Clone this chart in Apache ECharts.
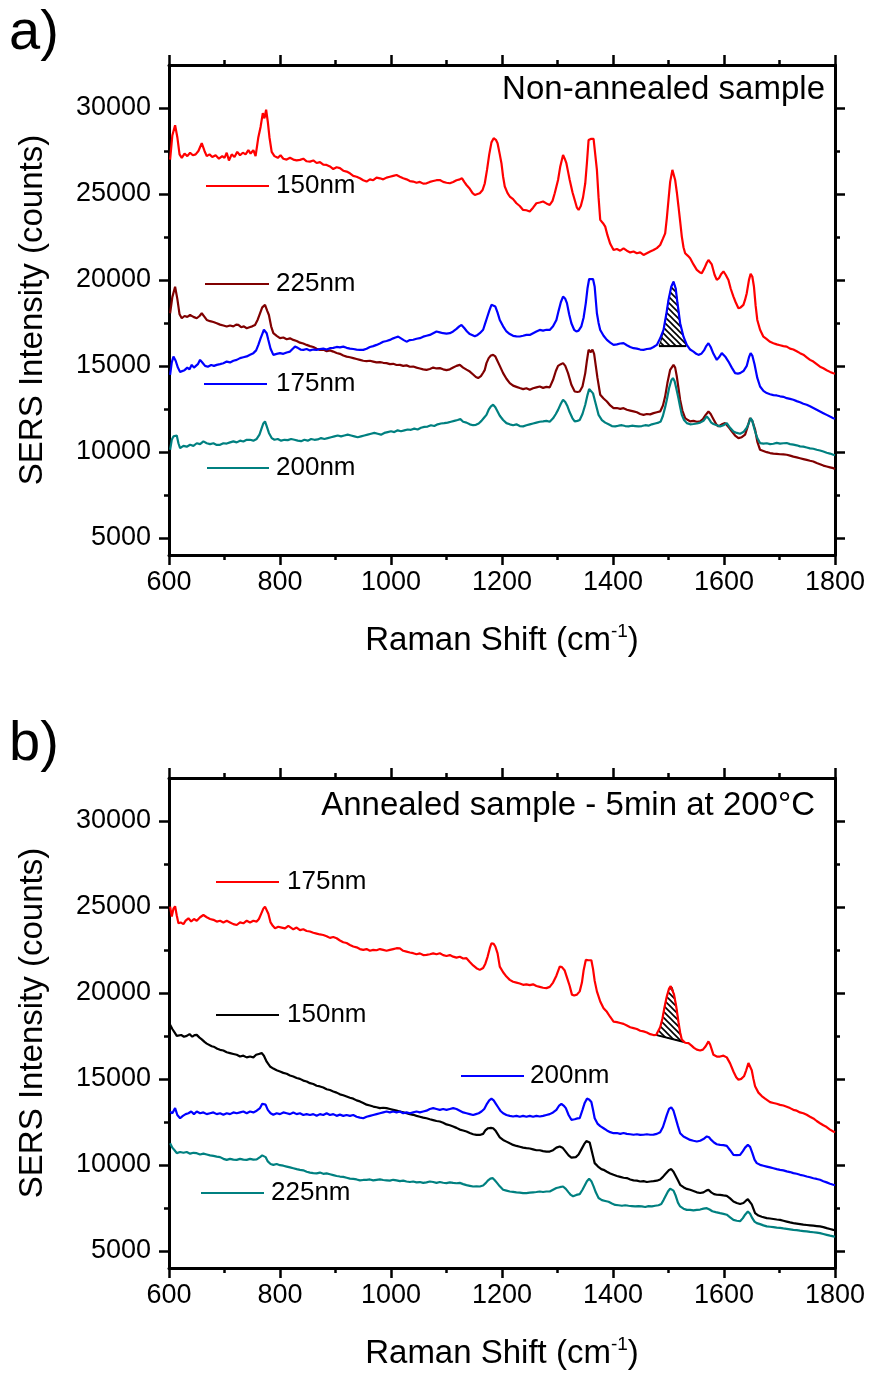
<!DOCTYPE html>
<html><head><meta charset="utf-8">
<script src="https://cdn.jsdelivr.net/npm/echarts@6/dist/echarts.min.js"></script>
<style>html,body{margin:0;padding:0;background:#fff}#c{width:869px;height:1374px}</style>
</head><body><div id="c"></div>
<script>
// ---------- tick values ----------
const xTickLabels = [600, 800, 1000, 1200, 1400, 1600, 1800];
const yMajor = [5000, 10000, 15000, 20000, 25000, 30000];
const yMinor = [7500, 12500, 17500, 22500, 27500];
const legendNames = ['150nm', '175nm', '200nm', '225nm'];

// ---------- panel a (non-annealed) : [Raman shift, counts] ----------
const a150 = [[602,27000],[606,28400],[611,29000],[615,28300],[619,27300],[623,27100],[628,27350],[633,27200],[638,27400],[643,27250],[648,27300],[653,27500],[659,27950],[664,27500],[668,27200],[673,27300],[678,27150],[684,27250],[690,27050],[696,27200],[700,27100],[704,27400],[708,26950],[713,27300],[718,27150],[723,27450],[728,27250],[733,27400],[738,27300],[743,27550],[747,27350],[752,27550],[756,27200],[761,28300],[765,28900],[769,29700],[772,29400],[775,29900],[778,29200],[781,28300],[785,27450],[790,27200],[796,27100],[801,27250],[806,27050],[812,27000],[818,27100],[824,27000],[830,26950],[836,26980],[842,27050],[848,26900],[854,26880],[860,26950],[866,26800],[872,26850],[878,26700],[884,26690],[890,26600],[896,26450],[902,26550],[908,26500],[914,26350],[920,26300],[926,26200],[932,26050],[938,26000],[944,25910],[950,25800],[956,25720],[962,25850],[968,25800],[974,25950],[980,25910],[986,25850],[992,25950],[998,26000],[1004,26050],[1010,26100],[1016,26000],[1022,25910],[1028,25850],[1034,25750],[1040,25720],[1046,25650],[1052,25700],[1058,25600],[1064,25620],[1070,25700],[1076,25750],[1082,25800],[1088,25810],[1094,25700],[1100,25650],[1106,25620],[1112,25700],[1118,25800],[1124,25850],[1128,25910],[1132,25700],[1136,25520],[1142,25300],[1147,25050],[1151,24940],[1156,25000],[1160,25040],[1165,25230],[1169,25620],[1173,26400],[1177,27300],[1181,28000],[1185,28240],[1189,28150],[1192,27950],[1196,27300],[1199,26790],[1202,26000],[1205,25430],[1210,25050],[1214,24850],[1220,24700],[1226,24460],[1232,24300],[1238,24070],[1244,24050],[1250,23980],[1256,24200],[1262,24460],[1268,24500],[1274,24560],[1280,24450],[1286,24360],[1291,24600],[1295,25040],[1301,25810],[1305,26600],[1310,27270],[1313,27050],[1316,26790],[1319,26300],[1322,25810],[1327,25100],[1331,24650],[1335,24200],[1338,24070],[1342,24300],[1346,24800],[1350,25620],[1353,26800],[1356,28140],[1360,28200],[1365,28200],[1368,28150],[1371,26400],[1374,24800],[1377,23490],[1382,23300],[1386,23100],[1390,22600],[1395,22100],[1401,21740],[1407,21800],[1413,21700],[1419,21840],[1425,21700],[1431,21600],[1437,21650],[1443,21550],[1449,21600],[1455,21450],[1461,21550],[1467,21650],[1473,21740],[1479,21850],[1485,22030],[1490,22400],[1494,22710],[1497,23600],[1500,24650],[1503,25700],[1507,26400],[1510,26300],[1512,25810],[1515,25100],[1518,24270],[1521,23400],[1524,22520],[1527,21900],[1530,21550],[1535,21400],[1539,21260],[1545,20900],[1551,20580],[1556,20450],[1560,20390],[1565,20700],[1569,21000],[1572,21160],[1575,21100],[1578,20900],[1583,20300],[1587,20000],[1591,20100],[1595,20350],[1599,20490],[1603,20300],[1608,20000],[1612,19500],[1617,19030],[1621,18700],[1626,18350],[1630,18400],[1635,18550],[1638,18850],[1641,19230],[1645,20000],[1648,20350],[1651,20200],[1654,19600],[1657,18500],[1660,17670],[1665,17100],[1671,16700],[1677,16550],[1683,16400],[1689,16320],[1695,16250],[1701,16200],[1707,16150],[1713,16120],[1719,16000],[1725,15950],[1731,15850],[1737,15740],[1743,15650],[1749,15500],[1755,15350],[1761,15250],[1767,15100],[1773,14950],[1779,14860],[1785,14750],[1791,14650],[1797,14570],[1800,14550]];

const a225 = [[602,18060],[606,19000],[611,19600],[615,18900],[619,18000],[623,17770],[628,17900],[633,17850],[638,17960],[644,17850],[650,17770],[655,17900],[659,18060],[664,17850],[668,17670],[674,17600],[680,17550],[686,17480],[692,17400],[698,17350],[704,17290],[710,17350],[716,17300],[721,17400],[725,17380],[730,17250],[735,17300],[740,17190],[745,17250],[750,17300],[755,17380],[760,17700],[764,18060],[768,18400],[773,18550],[777,18200],[780,17960],[784,17300],[788,16900],[794,16750],[800,16610],[806,16650],[812,16550],[818,16600],[824,16510],[830,16450],[836,16350],[842,16300],[848,16220],[854,16150],[860,16100],[866,16000],[872,15930],[878,15950],[884,15850],[890,15900],[896,15830],[902,15750],[908,15700],[914,15600],[920,15540],[926,15500],[932,15450],[938,15400],[944,15350],[950,15300],[956,15280],[962,15300],[968,15250],[974,15200],[980,15220],[986,15180],[992,15160],[998,15100],[1004,15120],[1010,15050],[1016,15060],[1022,15000],[1028,15030],[1034,14950],[1040,14960],[1046,14900],[1052,14850],[1058,14800],[1064,14770],[1070,14820],[1076,14900],[1082,14850],[1088,14870],[1094,14800],[1100,14750],[1106,14800],[1112,14900],[1118,15000],[1124,15060],[1130,14900],[1136,14780],[1142,14670],[1148,14500],[1153,14350],[1157,14290],[1162,14400],[1166,14600],[1169,14770],[1172,15160],[1176,15450],[1180,15600],[1184,15640],[1188,15550],[1191,15450],[1196,15000],[1202,14580],[1208,14250],[1214,14000],[1220,13850],[1226,13780],[1232,13710],[1238,13650],[1244,13700],[1250,13610],[1256,13700],[1262,13750],[1268,13800],[1274,13720],[1280,13780],[1286,13750],[1292,14190],[1297,14700],[1301,15000],[1306,15100],[1310,15160],[1314,15000],[1319,14580],[1325,13900],[1331,13510],[1336,13480],[1340,13510],[1345,13800],[1350,14580],[1353,15300],[1356,15930],[1360,15800],[1363,15950],[1366,15700],[1369,15000],[1372,14300],[1377,13320],[1383,13100],[1389,12930],[1395,12700],[1401,12540],[1407,12550],[1413,12500],[1419,12540],[1425,12450],[1431,12400],[1437,12350],[1443,12300],[1449,12200],[1455,12150],[1461,12200],[1467,12180],[1473,12250],[1479,12300],[1485,12350],[1490,12700],[1494,13230],[1498,14000],[1503,14770],[1509,15060],[1512,14900],[1515,14380],[1518,13700],[1521,13020],[1525,12400],[1530,11960],[1535,11850],[1539,11770],[1545,11800],[1551,11750],[1557,11770],[1562,11900],[1567,12150],[1572,12350],[1576,12200],[1581,11900],[1586,11600],[1590,11480],[1596,11600],[1602,11670],[1608,11450],[1614,11190],[1620,10950],[1626,10800],[1632,10850],[1638,11000],[1643,11500],[1647,11960],[1651,11800],[1656,11300],[1660,10600],[1665,10120],[1671,10050],[1677,9980],[1683,9930],[1689,9900],[1695,9880],[1701,9860],[1707,9850],[1713,9830],[1719,9780],[1725,9720],[1731,9680],[1737,9630],[1743,9580],[1749,9530],[1755,9480],[1761,9440],[1767,9350],[1773,9280],[1779,9200],[1785,9150],[1791,9100],[1797,9050],[1800,9000]];

const a175 = [[602,14480],[605,15200],[608,15540],[612,15300],[616,14900],[620,14650],[623,14580],[628,14750],[633,14900],[637,14800],[641,15060],[645,14900],[648,14800],[652,15100],[656,15350],[660,15200],[665,15000],[670,14950],[676,15050],[681,15000],[686,15060],[692,15100],[698,15150],[704,15250],[710,15200],[716,15300],[722,15350],[728,15450],[734,15500],[740,15550],[746,15650],[752,15740],[757,15900],[761,16220],[765,16600],[768,16850],[771,17100],[773,17190],[776,16900],[779,16500],[783,16000],[788,15640],[794,15700],[800,15740],[806,15700],[812,15780],[818,15830],[823,16000],[827,16120],[832,16050],[837,15950],[842,15930],[848,15980],[854,15900],[860,15950],[866,15930],[872,15980],[878,16000],[884,15950],[890,16030],[896,16050],[902,16100],[908,16080],[914,16120],[920,16050],[926,16000],[932,15980],[938,15950],[944,15930],[950,15930],[956,16000],[962,16100],[968,16150],[974,16220],[980,16300],[986,16400],[992,16450],[998,16510],[1004,16600],[1008,16650],[1013,16700],[1018,16600],[1023,16500],[1028,16410],[1034,16500],[1040,16520],[1046,16580],[1052,16610],[1058,16700],[1064,16750],[1070,16800],[1076,16900],[1082,17000],[1088,16950],[1094,16900],[1100,16880],[1106,16900],[1112,17000],[1118,17150],[1123,17300],[1127,17380],[1132,17200],[1137,17000],[1142,16850],[1147,16780],[1151,16720],[1156,16800],[1160,16900],[1166,17100],[1170,17500],[1173,17800],[1177,18200],[1181,18550],[1184,18650],[1188,18450],[1192,18100],[1196,17670],[1202,17300],[1208,17000],[1214,16850],[1220,16750],[1226,16720],[1232,16710],[1238,16750],[1244,16800],[1250,16800],[1256,16900],[1262,17000],[1268,17090],[1274,17050],[1280,17100],[1286,17090],[1292,17300],[1298,17670],[1302,18200],[1306,18700],[1310,19030],[1314,18900],[1317,18650],[1321,18000],[1325,17480],[1330,17100],[1334,17000],[1338,17050],[1343,17300],[1347,17800],[1351,18650],[1354,19500],[1357,20050],[1360,20100],[1364,20050],[1367,19600],[1371,18060],[1374,17500],[1377,17090],[1383,16750],[1389,16510],[1395,16350],[1401,16220],[1407,16250],[1413,16300],[1419,16320],[1425,16200],[1431,16100],[1437,16030],[1443,16000],[1449,15950],[1455,15930],[1461,15980],[1467,16000],[1473,16100],[1479,16220],[1485,16600],[1491,17090],[1496,18000],[1500,18840],[1505,19600],[1509,19900],[1513,19500],[1516,18700],[1521,17480],[1527,16700],[1533,16220],[1539,15950],[1545,15830],[1550,15700],[1554,15640],[1559,15700],[1564,15900],[1568,16150],[1572,16320],[1576,16100],[1581,15700],[1587,15350],[1591,15500],[1596,15740],[1602,15550],[1608,15250],[1614,14900],[1620,14580],[1625,14550],[1629,14580],[1635,14700],[1641,15000],[1645,15500],[1648,15740],[1651,15600],[1655,15100],[1660,14300],[1665,13800],[1671,13550],[1677,13420],[1683,13350],[1689,13300],[1695,13280],[1701,13230],[1707,13200],[1713,13120],[1719,13080],[1725,13030],[1731,12950],[1737,12880],[1743,12800],[1749,12740],[1755,12650],[1761,12550],[1767,12450],[1773,12350],[1779,12250],[1785,12150],[1791,12050],[1797,11960],[1800,11920]];

const a200 = [[602,10120],[605,10700],[608,10900],[611,10850],[614,10950],[617,10500],[620,10220],[626,10350],[632,10300],[638,10410],[644,10350],[650,10500],[656,10450],[662,10610],[668,10500],[674,10450],[680,10500],[686,10400],[692,10410],[698,10500],[704,10480],[710,10550],[716,10610],[722,10550],[728,10650],[734,10600],[740,10700],[746,10700],[752,10650],[758,10750],[763,11000],[767,11380],[770,11650],[773,11770],[776,11500],[780,11100],[785,10800],[790,10700],[796,10750],[802,10650],[808,10700],[814,10680],[820,10750],[826,10700],[832,10650],[838,10620],[844,10700],[850,10650],[856,10750],[862,10700],[868,10720],[874,10800],[880,10750],[886,10800],[892,10850],[898,10900],[904,10950],[910,10900],[916,10950],[922,11000],[928,10950],[934,10900],[940,10850],[946,10900],[952,10950],[958,11000],[964,11050],[970,11100],[976,11050],[982,11000],[988,11100],[994,11150],[1000,11200],[1006,11150],[1012,11250],[1018,11200],[1024,11250],[1030,11300],[1036,11280],[1042,11350],[1048,11300],[1054,11400],[1060,11450],[1066,11470],[1072,11550],[1078,11500],[1084,11600],[1090,11650],[1096,11670],[1102,11700],[1108,11750],[1114,11800],[1120,11850],[1125,11900],[1130,11750],[1136,11700],[1142,11600],[1148,11550],[1153,11570],[1158,11650],[1163,11800],[1168,12000],[1172,12150],[1176,12450],[1180,12650],[1184,12740],[1188,12600],[1192,12350],[1196,12100],[1202,11850],[1208,11670],[1214,11600],[1220,11550],[1226,11600],[1232,11500],[1238,11480],[1244,11550],[1250,11600],[1256,11650],[1262,11700],[1268,11750],[1274,11770],[1280,11800],[1286,11750],[1292,11950],[1297,12200],[1301,12440],[1306,12800],[1310,13030],[1314,12900],[1318,12650],[1322,12300],[1327,11950],[1331,11770],[1336,11800],[1340,11850],[1345,12200],[1350,12740],[1354,13300],[1357,13650],[1360,13700],[1364,13400],[1368,12900],[1374,12150],[1380,11850],[1386,11700],[1392,11600],[1398,11500],[1404,11480],[1410,11520],[1416,11550],[1422,11500],[1428,11480],[1434,11520],[1440,11500],[1446,11480],[1452,11500],[1458,11550],[1464,11520],[1470,11600],[1476,11650],[1482,11700],[1486,11770],[1490,12100],[1494,12600],[1497,13030],[1501,13700],[1505,14150],[1508,14290],[1511,14100],[1514,13700],[1518,13100],[1521,12600],[1524,12150],[1528,11850],[1533,11670],[1539,11600],[1545,11620],[1551,11650],[1557,11700],[1563,11800],[1569,12060],[1573,11900],[1577,11700],[1581,11620],[1587,11550],[1593,11480],[1599,11550],[1605,11670],[1611,11400],[1617,11190],[1623,11100],[1629,11050],[1635,11150],[1641,11400],[1645,11700],[1648,11960],[1651,11800],[1655,11300],[1660,10800],[1665,10510],[1671,10480],[1677,10500],[1683,10450],[1689,10470],[1695,10520],[1701,10480],[1707,10500],[1713,10510],[1719,10450],[1725,10420],[1731,10380],[1737,10320],[1743,10300],[1749,10250],[1755,10200],[1761,10180],[1767,10120],[1773,10080],[1779,10020],[1785,9950],[1791,9900],[1797,9830],[1800,9800]];

// ---------- panel b (annealed) ----------
const b175 = [[602,25020],[605,24440],[608,24900],[611,25040],[614,24500],[617,24050],[621,24100],[626,24000],[630,24200],[635,24340],[640,24150],[645,24300],[650,24200],[656,24400],[662,24530],[668,24400],[674,24300],[680,24250],[686,24150],[692,24200],[698,24100],[704,24200],[710,24100],[716,24000],[722,23950],[728,24100],[734,24050],[740,24200],[746,24100],[752,24200],[758,24150],[762,24300],[766,24600],[770,24900],[773,25020],[776,24950],[779,24600],[783,24100],[787,23900],[791,23760],[797,23850],[803,23800],[809,23750],[815,23900],[818,23860],[824,23700],[830,23800],[836,23650],[842,23700],[848,23600],[854,23570],[860,23500],[866,23450],[872,23400],[878,23370],[884,23300],[890,23200],[896,23250],[902,23180],[908,23050],[914,22950],[920,22900],[926,22790],[932,22700],[938,22650],[944,22550],[950,22500],[956,22550],[962,22450],[968,22500],[974,22480],[980,22550],[986,22500],[992,22450],[998,22500],[1004,22550],[1010,22600],[1016,22590],[1022,22450],[1028,22400],[1034,22350],[1040,22310],[1046,22250],[1052,22300],[1058,22200],[1064,22210],[1070,22250],[1076,22300],[1082,22250],[1088,22310],[1094,22200],[1100,22150],[1106,22200],[1112,22110],[1118,22050],[1124,22100],[1130,22000],[1136,22020],[1142,21800],[1148,21600],[1154,21440],[1160,21340],[1166,21450],[1170,21700],[1174,22100],[1178,22600],[1181,22890],[1185,22850],[1188,22700],[1192,22300],[1196,21530],[1202,21200],[1208,20950],[1214,20760],[1220,20650],[1226,20600],[1232,20550],[1238,20470],[1244,20500],[1250,20450],[1256,20500],[1262,20400],[1268,20350],[1274,20300],[1280,20280],[1286,20350],[1292,20600],[1298,21000],[1304,21530],[1308,21500],[1313,21300],[1318,20800],[1322,20400],[1326,19900],[1330,19850],[1335,19900],[1340,20090],[1344,20600],[1347,21300],[1351,21920],[1356,21900],[1361,21900],[1364,21400],[1367,20700],[1371,20090],[1377,19500],[1383,19110],[1389,18900],[1395,18600],[1401,18330],[1407,18300],[1413,18250],[1419,18200],[1425,18100],[1431,18000],[1437,17950],[1443,17900],[1449,17800],[1455,17760],[1461,17700],[1467,17600],[1473,17550],[1478,17560],[1481,17750],[1485,18000],[1489,18500],[1493,19200],[1497,19800],[1501,20250],[1504,20400],[1507,20300],[1510,19900],[1514,19200],[1518,18300],[1521,17700],[1524,17280],[1530,17100],[1536,17080],[1541,16950],[1546,16800],[1551,16700],[1557,16650],[1562,16700],[1567,16900],[1572,17180],[1575,17000],[1578,16700],[1581,16400],[1587,16300],[1593,16300],[1599,16350],[1605,16250],[1611,15900],[1617,15430],[1622,15100],[1626,14950],[1631,15000],[1636,15150],[1640,15500],[1644,15920],[1647,15850],[1650,15500],[1653,15000],[1656,14570],[1662,14200],[1668,14000],[1674,13850],[1677,13780],[1683,13650],[1689,13600],[1695,13550],[1701,13490],[1707,13450],[1713,13380],[1719,13300],[1725,13200],[1731,13150],[1737,13050],[1743,13000],[1749,12910],[1755,12800],[1761,12700],[1767,12550],[1773,12420],[1779,12300],[1785,12200],[1791,12050],[1797,11940],[1800,11900]];

const b150 = [[602,18140],[606,17900],[610,17700],[614,17500],[617,17460],[622,17550],[627,17450],[632,17500],[637,17600],[642,17450],[646,17550],[650,17560],[655,17400],[659,17300],[664,17150],[668,17050],[671,16980],[677,16900],[682,16850],[687,16750],[692,16690],[698,16650],[704,16550],[710,16500],[716,16450],[722,16400],[728,16300],[734,16350],[740,16250],[746,16300],[752,16250],[757,16400],[762,16450],[767,16500],[771,16350],[776,16000],[782,15720],[788,15600],[794,15500],[800,15430],[806,15350],[812,15300],[818,15200],[824,15140],[830,15050],[836,15000],[842,14900],[848,14850],[854,14750],[860,14700],[866,14600],[872,14560],[878,14500],[884,14400],[890,14350],[896,14270],[902,14200],[908,14100],[914,14050],[920,13980],[926,13900],[932,13850],[938,13750],[944,13690],[950,13600],[956,13500],[962,13450],[968,13390],[974,13350],[980,13300],[986,13320],[992,13300],[998,13250],[1004,13200],[1010,13150],[1016,13100],[1022,13050],[1028,13000],[1034,12950],[1040,12910],[1046,12850],[1052,12800],[1058,12750],[1064,12710],[1070,12650],[1076,12600],[1082,12550],[1088,12520],[1094,12450],[1100,12350],[1106,12300],[1112,12230],[1118,12150],[1124,12050],[1130,12000],[1136,11940],[1142,11850],[1148,11780],[1154,11740],[1160,11740],[1166,11800],[1170,12000],[1175,12130],[1180,12150],[1184,12130],[1188,12000],[1192,11800],[1196,11600],[1202,11450],[1208,11350],[1214,11250],[1220,11160],[1226,11100],[1232,11050],[1238,11000],[1244,10970],[1250,10950],[1256,10900],[1262,10850],[1268,10850],[1274,10800],[1280,10770],[1286,10770],[1292,10850],[1298,11000],[1304,11070],[1309,11000],[1314,10800],[1320,10550],[1325,10420],[1328,10390],[1333,10450],[1338,10600],[1343,10900],[1348,11200],[1352,11380],[1355,11450],[1358,11300],[1361,10900],[1364,10500],[1367,10100],[1373,9900],[1379,9750],[1383,9710],[1389,9600],[1395,9500],[1401,9420],[1407,9350],[1413,9300],[1419,9250],[1425,9230],[1431,9150],[1437,9100],[1443,9080],[1449,9030],[1455,9050],[1461,9000],[1467,9030],[1473,9050],[1479,9080],[1485,9150],[1490,9300],[1494,9450],[1497,9520],[1501,9700],[1505,9750],[1509,9600],[1513,9350],[1517,9100],[1521,8840],[1527,8700],[1533,8600],[1539,8550],[1545,8480],[1551,8400],[1557,8360],[1563,8400],[1568,8500],[1572,8550],[1577,8400],[1582,8300],[1587,8260],[1593,8250],[1599,8220],[1605,8200],[1611,8050],[1617,7870],[1623,7780],[1629,7720],[1635,7780],[1639,7900],[1643,8000],[1646,7950],[1650,7700],[1656,7190],[1662,7050],[1668,6980],[1677,6900],[1683,6880],[1689,6850],[1695,6820],[1701,6800],[1707,6750],[1713,6700],[1719,6650],[1725,6610],[1731,6580],[1737,6550],[1743,6520],[1749,6500],[1755,6480],[1761,6460],[1767,6440],[1773,6420],[1779,6380],[1785,6320],[1791,6270],[1797,6220],[1800,6200]];

const b200 = [[602,13100],[606,13000],[611,13300],[615,12900],[620,12710],[625,12850],[630,12950],[635,13000],[640,13100],[645,12950],[650,13100],[656,13000],[662,13050],[668,12950],[674,13000],[680,13050],[686,12950],[692,13000],[698,12910],[704,13000],[710,12950],[716,13050],[722,13000],[728,13050],[734,13100],[740,13000],[746,13100],[752,13050],[758,13150],[764,13300],[768,13550],[771,13630],[774,13500],[778,13200],[783,13000],[788,12910],[794,13000],[800,12950],[806,13050],[812,13000],[818,12950],[824,13050],[830,12950],[836,13000],[842,12900],[848,12950],[854,12900],[860,12950],[866,12850],[872,12950],[878,12900],[884,13000],[890,12900],[896,12950],[902,12850],[908,12920],[914,12850],[920,12900],[926,12850],[932,12900],[938,12800],[944,12750],[950,12710],[956,12800],[962,12850],[968,12900],[974,12950],[980,13000],[986,13050],[992,13100],[998,13050],[1004,13100],[1010,13050],[1016,13100],[1022,13000],[1028,13050],[1034,13000],[1040,13050],[1046,13100],[1052,13050],[1058,13100],[1064,13150],[1070,13250],[1076,13300],[1082,13250],[1088,13200],[1094,13250],[1100,13200],[1106,13250],[1112,13300],[1118,13250],[1124,13150],[1130,13050],[1136,13000],[1142,12950],[1148,12900],[1153,12950],[1158,13000],[1163,13100],[1168,13250],[1172,13500],[1177,13750],[1181,13850],[1185,13750],[1189,13550],[1193,13350],[1197,13150],[1202,13000],[1208,12900],[1214,12850],[1220,12810],[1226,12850],[1232,12800],[1238,12850],[1244,12800],[1250,12850],[1256,12800],[1262,12850],[1268,12810],[1274,12850],[1280,12900],[1286,12950],[1292,13050],[1298,13200],[1303,13450],[1307,13550],[1311,13450],[1315,13300],[1320,12900],[1325,12620],[1331,12650],[1336,12700],[1340,12710],[1345,13200],[1349,13600],[1353,13850],[1357,13800],[1361,13650],[1364,13200],[1367,12710],[1372,12400],[1377,12250],[1383,12130],[1389,12000],[1395,11900],[1401,11840],[1407,11850],[1413,11800],[1419,11850],[1425,11800],[1431,11780],[1437,11750],[1443,11780],[1449,11740],[1455,11750],[1461,11780],[1467,11750],[1473,11760],[1479,11800],[1485,11900],[1490,12200],[1494,12600],[1497,12910],[1501,13250],[1505,13350],[1509,13150],[1513,12700],[1517,12250],[1521,11840],[1527,11650],[1533,11550],[1539,11450],[1545,11400],[1551,11360],[1557,11400],[1563,11500],[1569,11650],[1573,11600],[1577,11450],[1582,11300],[1587,11200],[1593,11160],[1599,11150],[1605,11100],[1611,10850],[1617,10580],[1623,10560],[1629,10580],[1634,10800],[1638,11000],[1643,11160],[1647,11050],[1651,10700],[1655,10300],[1659,10100],[1665,10000],[1671,9950],[1677,9900],[1683,9850],[1689,9800],[1695,9750],[1701,9710],[1707,9680],[1713,9620],[1719,9580],[1725,9520],[1731,9480],[1737,9420],[1743,9380],[1749,9320],[1755,9280],[1761,9220],[1767,9180],[1773,9130],[1779,9050],[1785,8980],[1791,8900],[1797,8840],[1800,8820]];

const b225 = [[602,11260],[606,11000],[610,10850],[614,10680],[620,10750],[626,10700],[632,10750],[638,10650],[644,10700],[650,10680],[656,10600],[662,10650],[668,10600],[674,10550],[680,10520],[686,10480],[692,10450],[698,10350],[704,10290],[710,10350],[716,10300],[722,10290],[728,10350],[734,10300],[740,10290],[746,10350],[752,10300],[758,10320],[764,10450],[768,10550],[771,10600],[774,10450],[778,10200],[783,10050],[788,10000],[794,10050],[800,9980],[806,9950],[812,9900],[818,9850],[824,9800],[830,9750],[836,9710],[842,9680],[848,9600],[854,9550],[860,9520],[866,9500],[872,9550],[878,9480],[884,9500],[890,9450],[896,9400],[902,9350],[908,9320],[914,9300],[920,9250],[926,9200],[932,9180],[938,9150],[944,9100],[950,9120],[956,9130],[962,9150],[968,9100],[974,9130],[980,9150],[986,9120],[992,9100],[998,9080],[1004,9130],[1010,9100],[1016,9050],[1022,9080],[1028,9030],[1034,9000],[1040,9030],[1046,8980],[1052,9000],[1058,8950],[1064,8980],[1070,9030],[1076,9000],[1082,8950],[1088,9000],[1094,8960],[1100,8940],[1106,8980],[1112,8950],[1118,8930],[1124,8950],[1130,8880],[1136,8820],[1142,8780],[1148,8740],[1154,8750],[1160,8740],[1166,8800],[1171,8950],[1175,9100],[1179,9200],[1183,9230],[1187,9100],[1191,8950],[1196,8750],[1202,8550],[1208,8500],[1214,8450],[1220,8430],[1226,8400],[1232,8380],[1238,8350],[1244,8360],[1250,8380],[1256,8400],[1262,8420],[1268,8450],[1274,8420],[1280,8450],[1286,8450],[1292,8550],[1298,8650],[1304,8700],[1310,8740],[1315,8600],[1320,8400],[1324,8250],[1328,8170],[1334,8250],[1340,8300],[1345,8550],[1349,8800],[1353,9050],[1357,9190],[1361,9050],[1365,8750],[1369,8400],[1374,8070],[1380,7950],[1386,7900],[1392,7850],[1398,7750],[1404,7670],[1410,7650],[1416,7620],[1422,7650],[1428,7620],[1434,7600],[1440,7580],[1446,7600],[1452,7580],[1458,7550],[1464,7600],[1470,7580],[1476,7620],[1482,7650],[1487,7720],[1491,7950],[1495,8200],[1499,8450],[1503,8620],[1506,8650],[1509,8500],[1513,8200],[1517,7800],[1521,7580],[1527,7450],[1533,7380],[1539,7380],[1545,7350],[1551,7380],[1557,7400],[1563,7450],[1569,7480],[1574,7400],[1579,7300],[1585,7250],[1593,7190],[1599,7150],[1605,7100],[1611,6950],[1617,6800],[1623,6750],[1629,6720],[1634,6900],[1638,7100],[1643,7290],[1647,7150],[1651,6900],[1655,6700],[1659,6610],[1665,6550],[1671,6480],[1677,6420],[1683,6400],[1689,6380],[1695,6350],[1701,6330],[1707,6300],[1713,6280],[1719,6250],[1725,6220],[1731,6200],[1737,6170],[1743,6150],[1749,6130],[1755,6100],[1761,6080],[1767,6060],[1773,6030],[1779,5980],[1785,5930],[1791,5880],[1797,5840],[1800,5820]];

// ---------- hatched peak areas (~1510 cm-1 band) ----------
const hatchATop = [[1483,16150],[1487,16500],[1491,17090],[1496,18000],[1500,18840],[1505,19600],[1509,19900],[1513,19500],[1516,18700],[1521,17480],[1527,16700],[1532,16150]];
const hatchABase = [[1483,16150],[1532,16150]];
const hatchBTop = [[1477,17560],[1481,17750],[1485,18000],[1489,18500],[1493,19200],[1497,19800],[1501,20250],[1504,20400],[1507,20300],[1510,19900],[1514,19200],[1518,18300],[1521,17700],[1524,17280],[1528,17150]];
const hatchBBase = [[1477,17560],[1528,17150]];

// ---------- rendering ----------
const FONT = '"Liberation Sans", Arial, sans-serif';
const C = { red: '#ff0000', dred: '#800000', blue: '#0000ff', teal: '#008080', black: '#000000' };

// hatch pattern ("\" stripes)
const pat = document.createElement('canvas');
pat.width = 6; pat.height = 6;
(function () {
  const g = pat.getContext('2d');
  g.fillStyle = '#fff'; g.fillRect(0, 0, 6, 6);
  g.strokeStyle = '#000'; g.lineWidth = 1.6;
  g.beginPath();
  g.moveTo(-1, -1); g.lineTo(7, 7);
  g.moveTo(-1, 5); g.lineTo(1, 7);
  g.moveTo(5, -1); g.lineTo(7, 1);
  g.stroke();
})();

const chart = echarts.init(document.getElementById('c'), null, { renderer: 'canvas', width: 869, height: 1374 });

const grids = [
  { left: 169, top: 65, width: 666, height: 490 },
  { left: 169, top: 778, width: 666, height: 490 }
];

const axLine = { show: true, onZero: false, lineStyle: { color: '#000', width: 3 } };
const tickStyle = { color: '#000', width: 2.5 };
const plainNum = function (v) { return String(v); };

function xAxesFor(gi) {
  const base = {
    gridIndex: gi, type: 'value', min: xTickLabels[0], max: xTickLabels[xTickLabels.length - 1], interval: 200,
    axisLine: axLine, splitLine: { show: false }, minorSplitLine: { show: false },
    axisTick: { show: true, inside: false, length: 10, lineStyle: tickStyle },
    minorTick: { show: true, splitNumber: 2, length: 5, lineStyle: tickStyle }
  };
  return [
    Object.assign({}, base, {
      position: 'bottom',
      axisLabel: { show: true, margin: 14, color: '#000', fontSize: 27, fontFamily: FONT, formatter: plainNum },
      name: '{a|Raman Shift (cm}{s|-1}{a|)}', nameLocation: 'middle', nameGap: 67,
      nameTextStyle: {
        color: '#000', fontFamily: FONT, fontSize: 33,
        rich: {
          a: { fontSize: 33, fontFamily: FONT, color: '#000', lineHeight: 38 },
          s: { fontSize: 19, fontFamily: FONT, color: '#000', verticalAlign: 'top', lineHeight: 38 }
        }
      }
    }),
    Object.assign({}, base, { position: 'top', axisLabel: { show: false } })
  ];
}

function yAxesFor(gi) {
  const base = {
    gridIndex: gi, type: 'value', min: 4000, max: 32500,
    splitLine: { show: false }, minorTick: { show: false }
  };
  return [
    Object.assign({}, base, {
      position: 'left', axisLine: axLine,
      axisTick: { show: true, inside: false, length: 10, customValues: yMajor, lineStyle: tickStyle },
      axisLabel: { show: true, customValues: yMajor, margin: 18, color: '#000', fontSize: 27, fontFamily: FONT, formatter: plainNum },
      name: 'SERS Intensity (counts)', nameLocation: 'middle', nameGap: 120,
      nameTextStyle: { color: '#000', fontFamily: FONT, fontSize: 33 }
    }),
    Object.assign({}, base, {
      position: 'left', axisLine: { show: false },
      axisTick: { show: true, inside: false, length: 5, customValues: yMinor, lineStyle: tickStyle },
      axisLabel: { show: false }
    }),
    Object.assign({}, base, {
      position: 'right', axisLine: axLine,
      axisTick: { show: true, inside: false, length: 10, customValues: yMajor, lineStyle: tickStyle },
      axisLabel: { show: false }
    }),
    Object.assign({}, base, {
      position: 'right', axisLine: { show: false },
      axisTick: { show: true, inside: false, length: 5, customValues: yMinor, lineStyle: tickStyle },
      axisLabel: { show: false }
    })
  ];
}

function lineSeries(name, data, color, gi) {
  return {
    type: 'line', name: name, data: data, xAxisIndex: gi * 2, yAxisIndex: gi * 4,
    showSymbol: false, symbol: 'none', smooth: false, clip: true, z: 3,
    lineStyle: { color: color, width: 2.2 }, itemStyle: { color: color }, animation: false
  };
}

function hatchSeries(top, base, gi) {
  return {
    type: 'custom', coordinateSystem: 'cartesian2d', xAxisIndex: gi * 2, yAxisIndex: gi * 4,
    data: [top[0]], z: 2, animation: false, silent: true,
    renderItem: function (params, api) {
      const pts = top.map(function (p) { return api.coord(p); });
      const b = base.slice().reverse().map(function (p) { return api.coord(p); });
      const b0 = api.coord(base[0]), b1 = api.coord(base[1]);
      return {
        type: 'group',
        children: [
          { type: 'polygon', shape: { points: pts.concat(b) },
            style: { fill: { image: pat, repeat: 'repeat' }, stroke: '#000', lineWidth: 1 } },
          { type: 'line', shape: { x1: b0[0], y1: b0[1], x2: b1[0], y2: b1[1] },
            style: { stroke: '#000', lineWidth: 2 } }
        ]
      };
    }
  };
}

function legendItem(x1, x2, y, tx, color, label) {
  return [
    { type: 'line', shape: { x1: x1, y1: y, x2: x2, y2: y }, style: { stroke: color, lineWidth: 2 }, z: 10 },
    { type: 'text', x: tx, y: y, z: 10,
      style: { text: label, fill: '#000', font: '26px ' + FONT, align: 'left', verticalAlign: 'middle', textAlign: 'left', textVerticalAlign: 'middle' } }
  ];
}

function txt(x, y, s, size, align) {
  return { type: 'text', x: x, y: y, z: 10,
    style: { text: s, fill: '#000', font: size + 'px ' + FONT, align: align, verticalAlign: 'middle', textAlign: align, textVerticalAlign: 'middle' } };
}

const graphics = [].concat(
  [txt(9, 34, 'a)', 56, 'left'), txt(9, 745, 'b)', 56, 'left')],
  [txt(825, 90, 'Non-annealed sample', 33, 'right'), txt(815, 806, 'Annealed sample - 5min at 200°C', 33, 'right')],
  legendItem(206, 269, 186, 276, C.red, legendNames[0]),
  legendItem(205, 269, 284, 276, C.dred, legendNames[3]),
  legendItem(204, 267, 384, 276, C.blue, legendNames[1]),
  legendItem(207, 269, 468, 276, C.teal, legendNames[2]),
  legendItem(216, 279, 882, 287, C.red, legendNames[1]),
  legendItem(216, 279, 1015, 287, C.black, legendNames[0]),
  legendItem(461, 524, 1076, 530, C.blue, legendNames[2]),
  legendItem(201, 264, 1193, 271, C.teal, legendNames[3])
);

const option = {
  animation: false,
  backgroundColor: '#ffffff',
  textStyle: { fontFamily: FONT },
  grid: grids,
  xAxis: xAxesFor(0).concat(xAxesFor(1)),
  yAxis: yAxesFor(0).concat(yAxesFor(1)),
  series: [
    hatchSeries(hatchATop, hatchABase, 0),
    lineSeries('150nm (a)', a150, C.red, 0),
    lineSeries('225nm (a)', a225, C.dred, 0),
    lineSeries('175nm (a)', a175, C.blue, 0),
    lineSeries('200nm (a)', a200, C.teal, 0),
    hatchSeries(hatchBTop, hatchBBase, 1),
    lineSeries('175nm (b)', b175, C.red, 1),
    lineSeries('150nm (b)', b150, C.black, 1),
    lineSeries('200nm (b)', b200, C.blue, 1),
    lineSeries('225nm (b)', b225, C.teal, 1)
  ],
  graphic: graphics
};
chart.setOption(option);
</script>
</body></html>
